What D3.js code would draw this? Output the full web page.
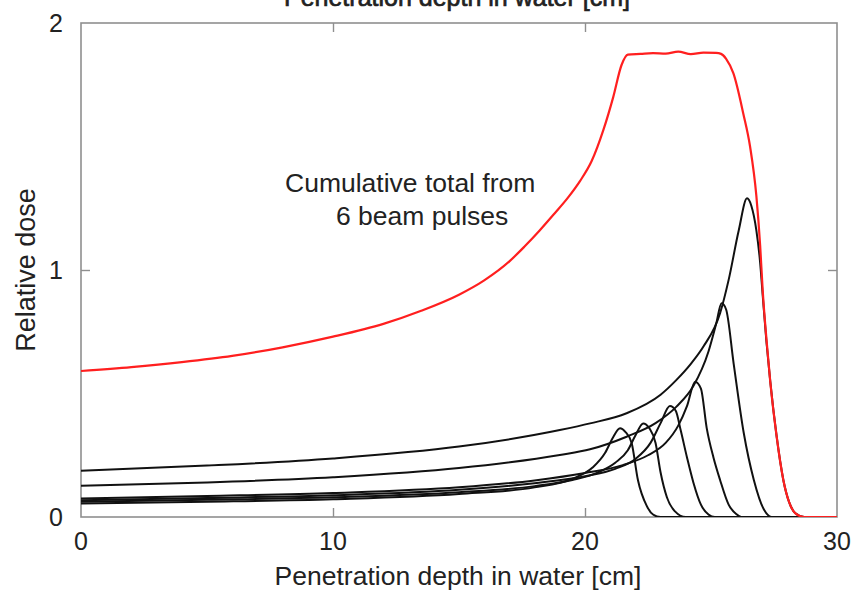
<!DOCTYPE html>
<html>
<head>
<meta charset="utf-8">
<script src="https://cdn.jsdelivr.net/npm/d3@7"></script>
<style>
  html, body { margin: 0; padding: 0; background: #fff; overflow: hidden; }
  text { font-family: "Liberation Sans", Arial, Helvetica, sans-serif; fill: #222; }
</style>
</head>
<body>
<svg id="chart" width="851" height="592"></svg>
<script>
// ---- data ----
const xTicks = [0, 10, 20, 30];
const yTicks = [0, 1, 2];
const xTitle = "Penetration depth in water [cm]";
const yTitle = "Relative dose";
const noteLines = ["Cumulative total from", "6 beam pulses"];

const totalDepth = [0, 2, 4, 6, 8, 10, 12, 13.5, 15, 16, 17, 17.6, 18.2, 18.8, 19.3, 19.8, 20.26, 20.73, 21.12, 21.45, 21.7, 22.2, 22.7, 23.2, 23.7, 24.2, 24.7, 25.2, 25.4, 25.6, 25.89, 26.28, 26.55, 26.8, 26.95, 27.05, 27.2, 27.35, 27.6, 27.87, 28.1, 28.35, 28.7, 30];
const totalDose  = [0.591, 0.607, 0.627, 0.652, 0.687, 0.73, 0.782, 0.835, 0.9, 0.958, 1.035, 1.095, 1.16, 1.23, 1.29, 1.36, 1.44, 1.567, 1.70, 1.83, 1.872, 1.875, 1.878, 1.876, 1.884, 1.874, 1.88, 1.879, 1.875, 1.855, 1.796, 1.634, 1.50, 1.30, 1.10, 0.92, 0.72, 0.55, 0.33, 0.15, 0.06, 0.015, 0, 0];

const pulse1Depth = [0, 5, 10, 15, 18, 19.5, 20.3, 20.8, 21.1, 21.39, 21.6, 21.85, 22.1, 22.45, 22.7, 23.0, 30];
const pulse1Dose  = [0.055, 0.062, 0.072, 0.093, 0.12, 0.155, 0.2, 0.26, 0.32, 0.359, 0.345, 0.30, 0.15, 0.045, 0.01, 0, 0];

const pulse2Depth = [0, 5, 10, 15, 18, 19.5, 20.5, 21.2, 21.7, 22.0, 22.31, 22.55, 22.8, 23.0, 23.25, 23.55, 24.0, 30];
const pulse2Dose  = [0.062, 0.07, 0.08, 0.10, 0.125, 0.15, 0.18, 0.22, 0.27, 0.33, 0.379, 0.36, 0.30, 0.18, 0.08, 0.025, 0, 0];

const pulse3Depth = [0, 5, 10, 15, 18, 20, 21.2, 22, 22.6, 23.0, 23.37, 23.6, 23.8, 24.05, 24.3, 24.6, 24.9, 25.15, 30];
const pulse3Dose  = [0.068, 0.077, 0.088, 0.11, 0.137, 0.165, 0.195, 0.235, 0.30, 0.38, 0.449, 0.43, 0.35, 0.24, 0.14, 0.05, 0.01, 0, 0];

const pulse4Depth = [0, 5, 10, 15, 18, 20, 21.5, 22.5, 23.2, 23.7, 24.05, 24.37, 24.6, 24.83, 25.1, 25.36, 25.7, 26.0, 26.2, 30];
const pulse4Dose  = [0.075, 0.085, 0.097, 0.12, 0.148, 0.178, 0.21, 0.25, 0.30, 0.37, 0.45, 0.548, 0.52, 0.36, 0.24, 0.15, 0.05, 0.012, 0, 0];

const pulse5Depth = [0, 5, 10, 15, 19, 20.2, 21.65, 22.8, 23.63, 24.3, 24.9, 25.2, 25.42, 25.6, 25.9, 26.3, 26.7, 27.1, 27.4, 30];
const pulse5Dose  = [0.127, 0.14, 0.161, 0.198, 0.251, 0.274, 0.325, 0.38, 0.447, 0.53, 0.67, 0.78, 0.865, 0.84, 0.62, 0.34, 0.15, 0.03, 0, 0];

const pulse6Depth = [0, 5, 10, 15, 19, 20.2, 21.65, 23, 23.63, 24.2, 24.7, 25.36, 25.7, 26.1, 26.43, 26.6, 26.8, 26.95, 27.05, 27.2, 27.35, 27.6, 27.87, 28.1, 28.35, 28.7, 30];
const pulse6Dose  = [0.187, 0.208, 0.237, 0.285, 0.352, 0.379, 0.42, 0.495, 0.555, 0.62, 0.69, 0.825, 0.96, 1.16, 1.29, 1.26, 1.16, 1.03, 0.90, 0.71, 0.55, 0.33, 0.15, 0.06, 0.015, 0, 0];

const pulses = [
  [pulse1Depth, pulse1Dose], [pulse2Depth, pulse2Dose], [pulse3Depth, pulse3Dose],
  [pulse4Depth, pulse4Dose], [pulse5Depth, pulse5Dose], [pulse6Depth, pulse6Dose]
];

// ---- layout ----
const svg = d3.select("#chart");
const L = 81, R = 837, T = 23, B = 517;
const x = d3.scaleLinear().domain([0, 30]).range([L, R]);
const y = d3.scaleLinear().domain([0, 2]).range([B, T]);

svg.append("defs").append("clipPath").attr("id", "plotclip")
  .append("rect").attr("x", L).attr("y", T - 5).attr("width", R - L).attr("height", B - T + 5);

const frameColor = "#8f8f8f";
svg.append("rect").attr("x", L).attr("y", T).attr("width", R - L).attr("height", B - T)
  .attr("fill", "none").attr("stroke", frameColor).attr("stroke-width", 1.6);

const tickLen = 9;
function styleTicks(g, ends) {
  g.select(".domain").remove();
  g.selectAll("line").attr("stroke", frameColor).attr("stroke-width", 1.4);
  g.selectAll(".tick").filter(d => ends.includes(d)).remove();
}
svg.append("g").attr("transform", `translate(0,${B})`)
  .call(d3.axisBottom(x).tickValues(xTicks).tickSizeInner(-tickLen).tickSizeOuter(0).tickFormat(""))
  .call(g => styleTicks(g, [0, 30]));
svg.append("g").attr("transform", `translate(0,${T})`)
  .call(d3.axisTop(x).tickValues(xTicks).tickSizeInner(-tickLen).tickSizeOuter(0).tickFormat(""))
  .call(g => styleTicks(g, [0, 30]));
svg.append("g").attr("transform", `translate(${L},0)`)
  .call(d3.axisLeft(y).tickValues(yTicks).tickSizeInner(-tickLen).tickSizeOuter(0).tickFormat(""))
  .call(g => styleTicks(g, [0, 2]));
svg.append("g").attr("transform", `translate(${R},0)`)
  .call(d3.axisRight(y).tickValues(yTicks).tickSizeInner(-tickLen).tickSizeOuter(0).tickFormat(""))
  .call(g => styleTicks(g, [0, 2]));

// tick labels
svg.append("g").selectAll("text").data(xTicks).join("text")
  .attr("x", d => x(d)).attr("y", 550)
  .attr("text-anchor", "middle").attr("font-size", 25).text(d => d);
svg.append("g").selectAll("text").data(yTicks).join("text")
  .attr("x", 63).attr("y", d => y(d) + 9)
  .attr("text-anchor", "end").attr("font-size", 25).text(d => d);

// axis titles
svg.append("text").attr("x", 458).attr("y", 585).attr("text-anchor", "middle")
  .attr("font-size", 26.5).text(xTitle);
svg.append("text").attr("x", 457).attr("y", 6).attr("text-anchor", "middle")
  .attr("font-size", 25).attr("stroke", "#222").attr("stroke-width", 0.7).text(xTitle);
svg.append("text").attr("transform", "translate(35,270) rotate(-90)").attr("text-anchor", "middle")
  .attr("font-size", 27).text(yTitle);

// annotation
svg.append("text").attr("x", 285).attr("y", 192).attr("font-size", 26.5).text(noteLines[0]);
svg.append("text").attr("x", 336).attr("y", 225).attr("font-size", 26.5).text(noteLines[1]);

// curves
const line = d3.line().x(d => x(d[0])).y(d => y(d[1])).curve(d3.curveMonotoneX);
const plot = svg.append("g").attr("clip-path", "url(#plotclip)");
pulses.forEach(([dx, dy]) => {
  plot.append("path").datum(dx.map((v, i) => [v, dy[i]]))
    .attr("fill", "none").attr("stroke", "#111").attr("stroke-width", 2).attr("d", line);
});
plot.append("path").datum(totalDepth.map((v, i) => [v, totalDose[i]]))
  .attr("fill", "none").attr("stroke", "#ff1f1f").attr("stroke-width", 2.2).attr("d", line);
</script>
</body>
</html>
